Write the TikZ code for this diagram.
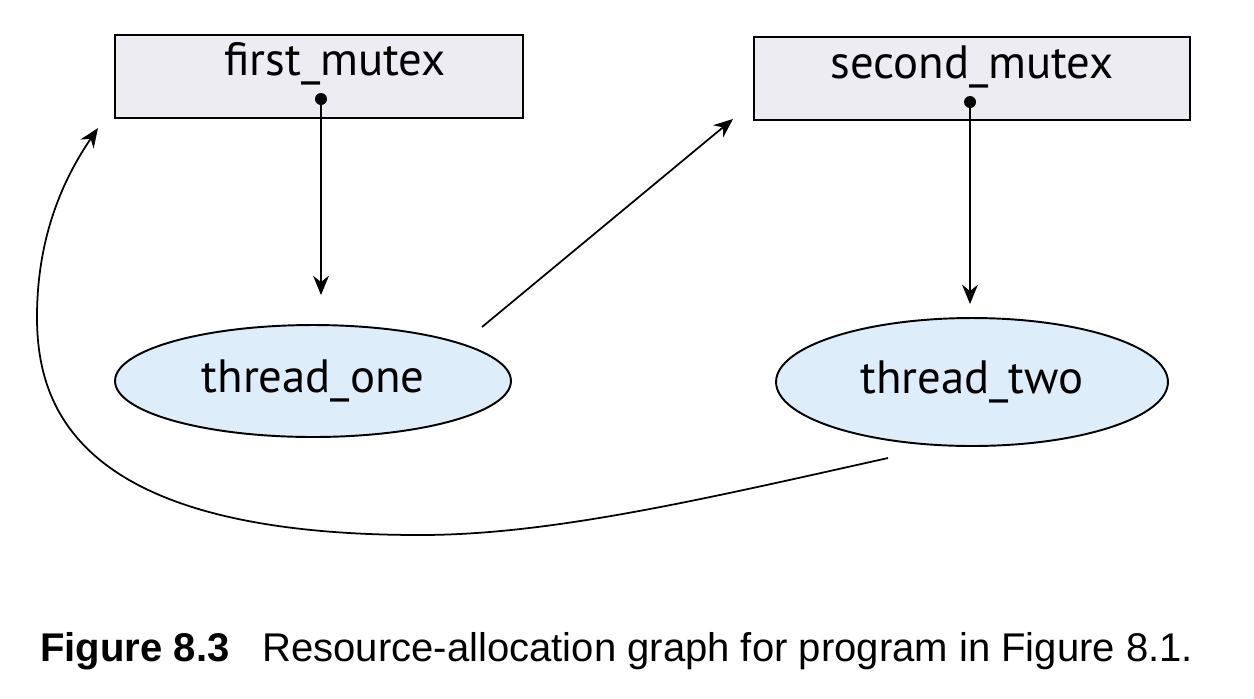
\documentclass[tikz,border=0pt]{standalone}
\usepackage{fontspec}
\setmainfont{PT Sans}
\newfontfamily\capfont{Liberation Sans}
\usetikzlibrary{shapes.geometric,arrows.meta}
\definecolor{mutexfill}{RGB}{237,236,243}
\definecolor{threadfill}{RGB}{221,237,249}
\begin{document}
\begin{tikzpicture}[x=0.02cm,y=-0.02cm,
  mutexbox/.style={draw=black,line width=1.1pt,fill=mutexfill,rectangle,minimum height=1.66cm,inner sep=0pt},
  threadnode/.style={draw=black,line width=1.1pt,fill=threadfill,ellipse,inner sep=0pt,font=\fontsize{26.6}{30}\selectfont},
  lbl/.style={font=\fontsize{26.6}{30}\selectfont,anchor=base,inner sep=0pt},
  holder/.style={circle,fill=black,inner sep=0pt,minimum size=0.24cm},
  edge/.style={line width=1pt,-{Stealth[length=11pt,width=9pt]}},
  capbold/.style={font=\capfont\bfseries\fontsize{22.8}{26}\selectfont,anchor=base west,inner sep=0pt},
  captext/.style={font=\capfont\fontsize{22.8}{26}\selectfont,anchor=base west,inner sep=0pt}]
\useasboundingbox[fill=white] (0,0) rectangle (1254,698);

% resources
\node[mutexbox,minimum width=8.16cm] (m1) at (319,76.5) {};
\node[mutexbox,minimum width=8.72cm] (m2) at (972,78.5) {};
\node[lbl] (m1t) at (335,75.5) {first\_mutex};
\node[lbl] (m2t) at (972,78.5) {second\_mutex};
\node[holder] (d1) at (321,99) {};
\node[holder] (d2) at (970,102) {};

% threads
\node[threadnode,minimum width=7.92cm,minimum height=2.24cm] (t1) at (313,381) {thread\_one};
\node[threadnode,minimum width=7.84cm,minimum height=2.56cm] (t2) at (972,382) {thread\_two};

% free ends of the request edges
\coordinate (r1s) at (482,327);
\coordinate (r1e) at (733,119);
\coordinate (r2s) at (888,458);
\coordinate (r2e) at (98,128);

% assignment edges
\draw[edge,shorten >=0.58cm] (d1.center) -- (d1.center |- t1.north);
\draw[edge,shorten >=0.26cm] (d2.center) -- (d2.center |- t2.north);

% request edges
\draw[edge] (r1s) -- (r1e);
\draw[edge] (r2s) .. controls (700,500) and (550,535) .. (420,535)
  .. controls (80,535) and (37,410) .. (37,317)
  .. controls (37,230) and (68,172) .. (r2e);

% caption
\node[capbold] (cap1) at (40,661) {Figure 8.3};
\node[captext] (cap2) at (262,661) {Resource-allocation graph for program in Figure 8.1.};
\end{tikzpicture}
\end{document}
